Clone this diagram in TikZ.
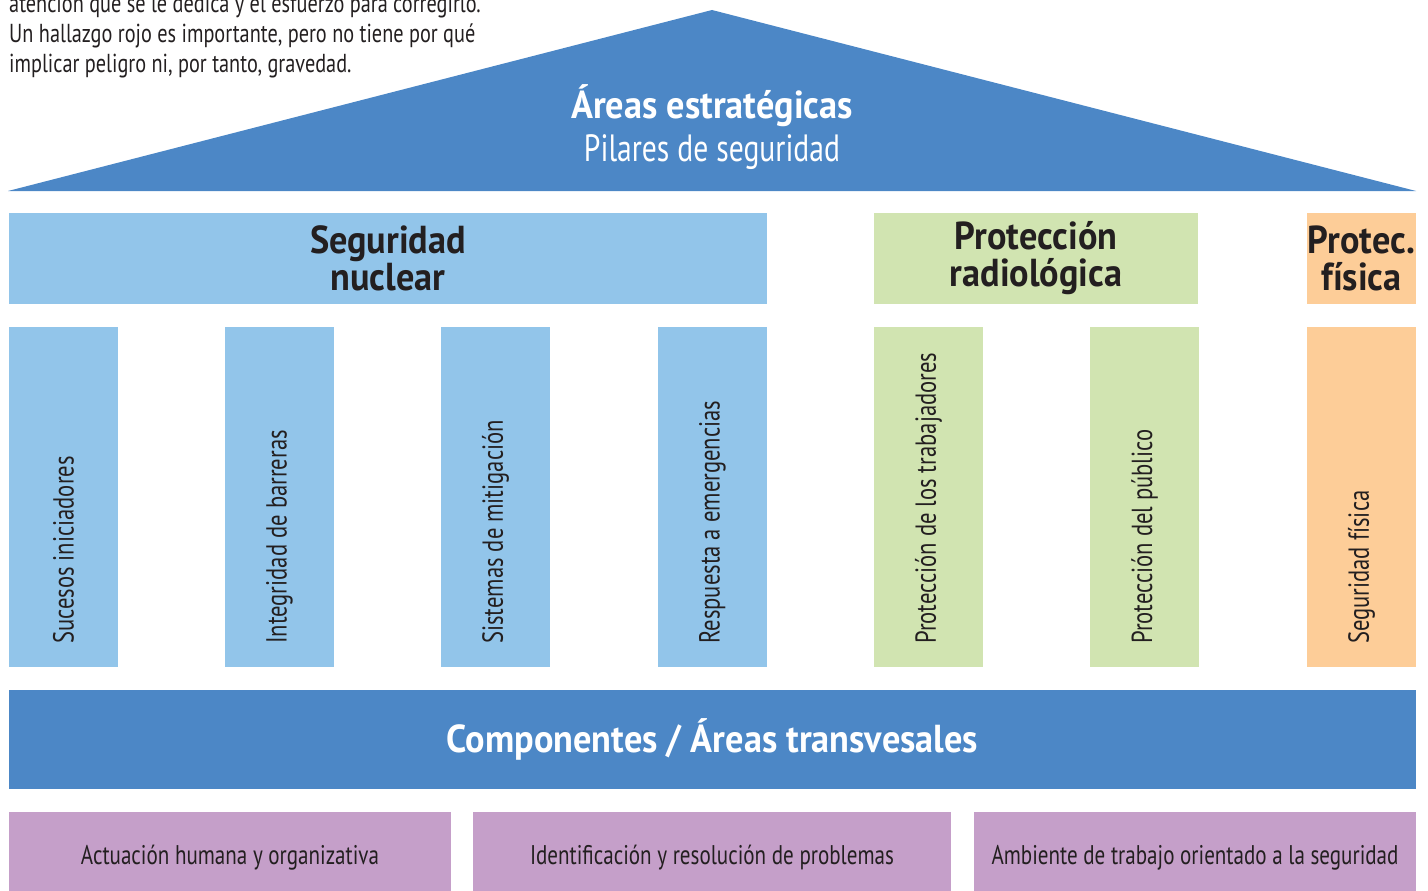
\documentclass[tikz,border=0pt]{standalone}
\usepackage{fontspec}
\setmainfont{PT Sans}[FakeStretch=0.78, BoldFeatures={FakeStretch=0.93}]
\definecolor{roofblue}{HTML}{4C87C6}
\definecolor{lightblue}{HTML}{92C5EA}
\definecolor{lightgreen}{HTML}{D1E4B1}
\definecolor{lightorange}{HTML}{FDCD98}
\definecolor{lilac}{HTML}{C59FC9}
\definecolor{ink}{HTML}{231F20}
\tikzset{
  box/.style={anchor=north west, inner sep=0pt, outer sep=0pt, align=center, text=ink},
  header/.style={box, minimum height=91pt, font=\bfseries\fontsize{39}{37}\selectfont},
  pillar/.style={box, minimum width=109pt, minimum height=340pt},
  ptext/.style={anchor=west, rotate=90, text=ink, inner sep=0pt, font=\fontsize{29}{30}\selectfont},
  base/.style={box, minimum height=92pt, font=\fontsize{27}{30}\selectfont},
}
\begin{document}
\begin{tikzpicture}[x=1pt,y=-1pt]
\useasboundingbox (0,0) rectangle (1428,891);
% intro text (cut at top, as in the reference)
\node[anchor=base west, inner sep=0pt, align=left, text=ink, font=\fontsize{26}{30}\selectfont] (intro) at (9,73)
  {atención que se le dedica y el esfuerzo para corregirlo.\\Un hallazgo rojo es importante, pero no tiene por qué\\implicar peligro ni, por tanto, gravedad.};
% roof
\fill[roofblue] (8,191) -- (712,10) -- (1416,191) -- cycle;
\node[anchor=base, inner sep=0pt, text=white, font=\bfseries\fontsize{39}{40}\selectfont] (roof1) at (712,118) {Áreas estratégicas};
\node[anchor=base, inner sep=0pt, text=white, font=\fontsize{38}{40}\selectfont] (roof2) at (712,161) {Pilares de seguridad};
% headers
\node[header, fill=lightblue, minimum width=758pt] (hnuc) at (9,213) {Seguridad\\nuclear};
\node[header, fill=lightgreen, minimum width=324pt] (hrad) at (874,213) {Protección\\radiológica};
\node[header, fill=lightorange, minimum width=109pt] (hfis) at (1307,213) {Protec.\\física};
% pillars
\node[pillar, fill=lightblue] (p1) at (9,327) {};
\node[pillar, fill=lightblue] (p2) at (225,327) {};
\node[pillar, fill=lightblue] (p3) at (441,327) {};
\node[pillar, fill=lightblue] (p4) at (658,327) {};
\node[pillar, fill=lightgreen] (p5) at (874,327) {};
\node[pillar, fill=lightgreen] (p6) at (1090,327) {};
\node[pillar, fill=lightorange] (p7) at (1307,327) {};
\foreach \p/\t in {p1/Sucesos iniciadores, p2/Integridad de barreras, p3/Sistemas de mitigación, p4/Respuesta a emergencias, p5/Protección de los trabajadores, p6/Protección del público, p7/Seguridad física}
  \node[ptext] (\p t) at ([yshift=23pt]\p.south) {\t};
% base bar
\node[box, fill=roofblue, minimum width=1407pt, minimum height=99pt, text=white, font=\bfseries\fontsize{39}{40}\selectfont] (comp) at (9,690) {Componentes / Áreas transvesales};
% bottom boxes (they run off the lower edge)
\node[base, fill=lilac, minimum width=442pt] (b1) at (9,812) {Actuación humana y organizativa};
\node[base, fill=lilac, minimum width=478pt] (b2) at (473,812) {Identificación y resolución de problemas};
\node[base, fill=lilac, minimum width=442pt] (b3) at (974,812) {Ambiente de trabajo orientado a la seguridad};
\end{tikzpicture}
\end{document}
